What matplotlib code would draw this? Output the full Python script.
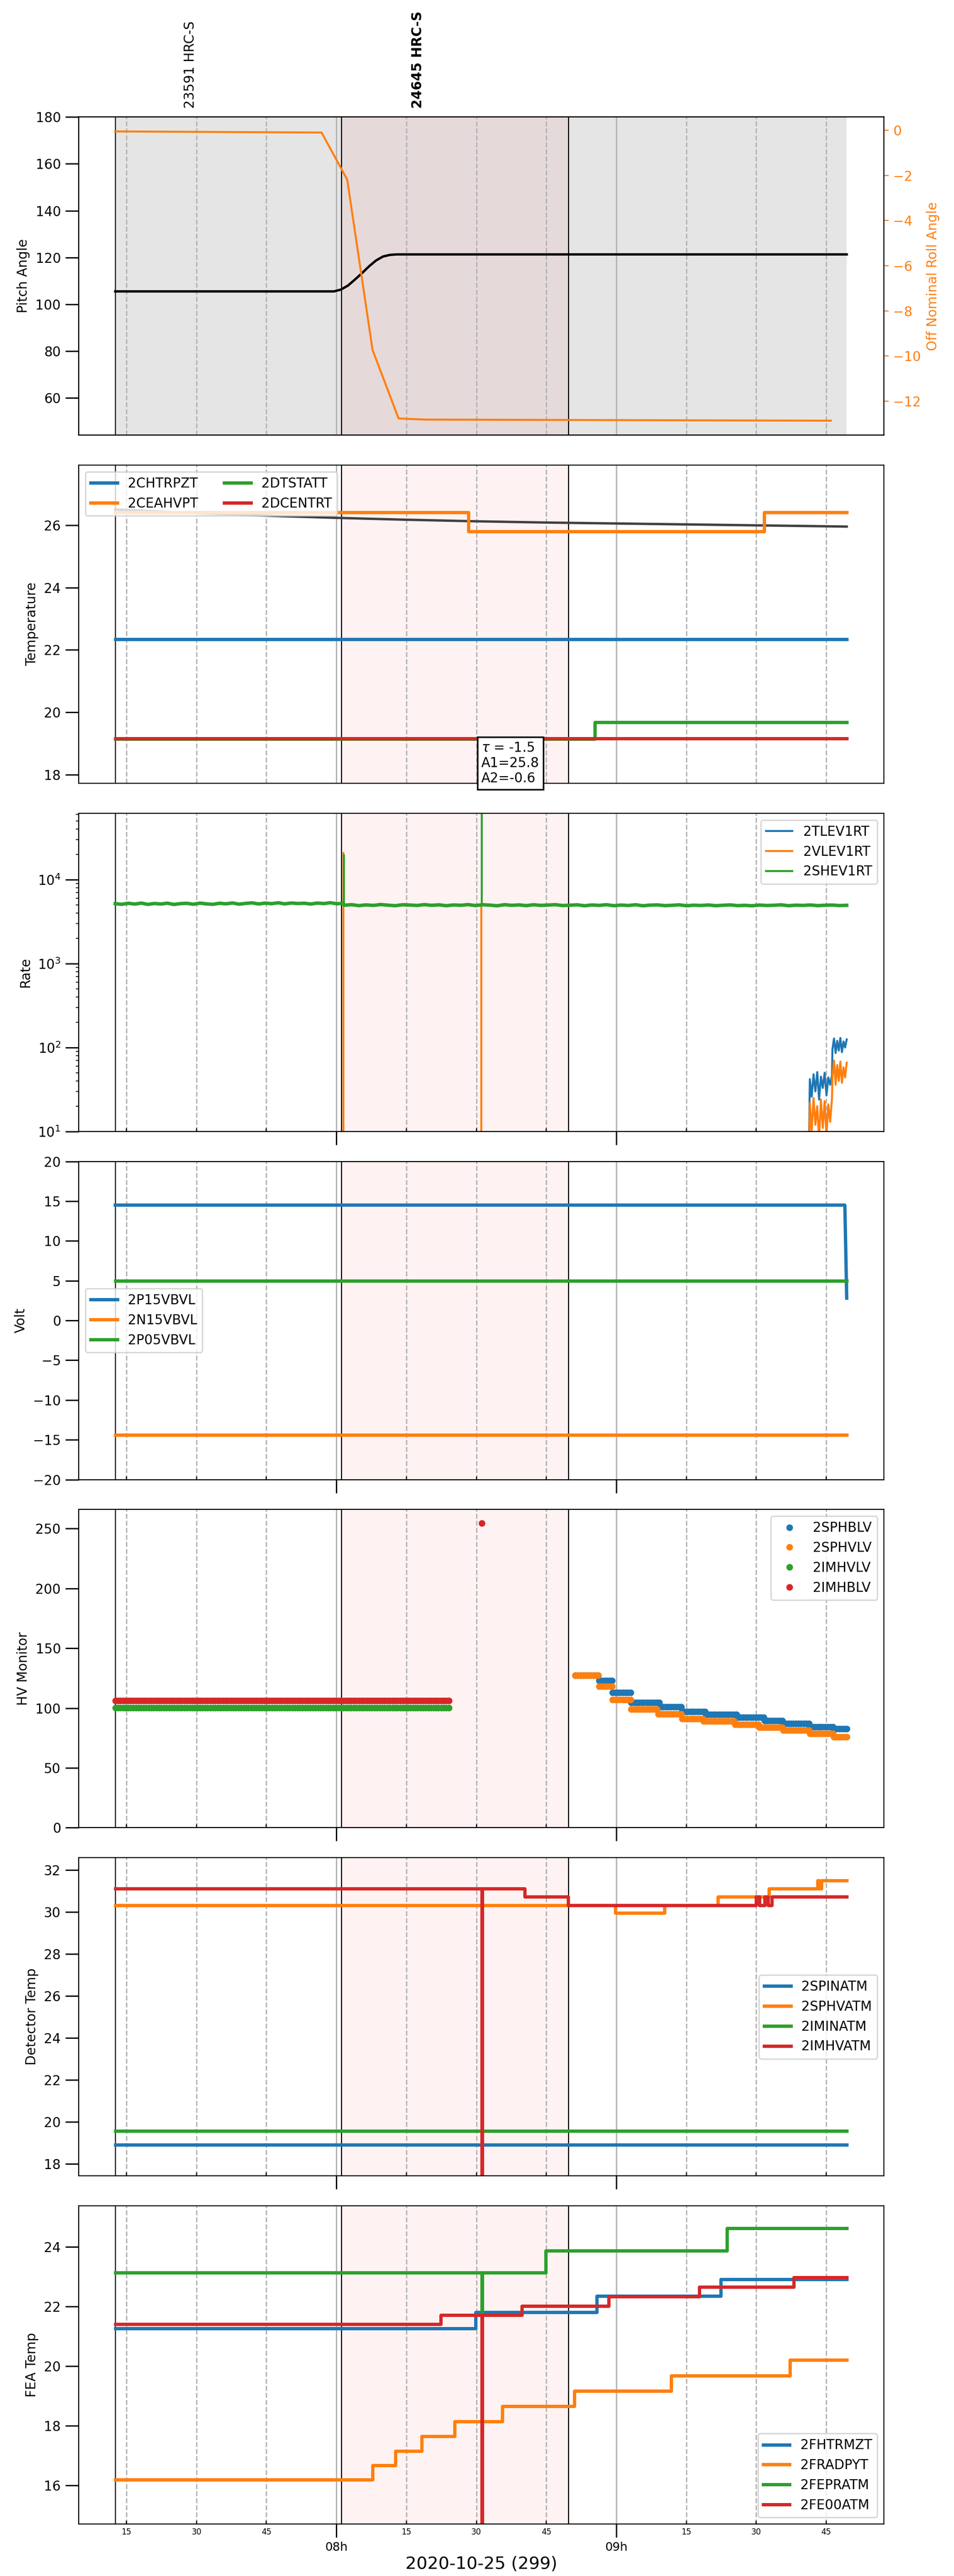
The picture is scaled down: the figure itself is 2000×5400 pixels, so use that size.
"""HRC dwell summary for 2020-10-25: attitude, temperatures, rates, voltages."""
import matplotlib
matplotlib.use("Agg")
import matplotlib.pyplot as plt
import matplotlib.dates as mdates
from matplotlib.ticker import MultipleLocator
import pandas as pd

DAY = "2020-10-25 "
T_START = "07:12:36"
T_END = "09:49:24"
XLIM = ["07:04:46", "09:57:22"]

# --- observations ---
obs_edges = ["07:12:36", "08:01:06", "08:49:45"]
obs_names = ["23591 HRC-S", "24645 HRC-S"]
obs_label_t = ["07:28:40", "08:17:25"]
cur_obs = ["08:01:06", "08:49:45"]

# --- panel 1: attitude ---
pitch_t = ["07:12:36", "07:59:30", "08:01:00", "08:02:30", "08:04:00", "08:05:30",
           "08:07:00", "08:08:30", "08:10:00", "08:11:30", "08:13:00", "09:49:24"]
pitch_v = [105.5, 105.5, 106.3, 108.0, 110.6, 113.3, 116.2, 118.7, 120.4, 121.1, 121.3, 121.3]
roll_t = ["07:12:36", "07:56:50", "08:02:20", "08:07:45", "08:13:20", "08:19:00", "09:46:00"]
roll_v = [-0.05, -0.10, -2.19, -9.73, -12.77, -12.82, -12.87]

# --- panel 2: temperatures ---
chtrpzt_t = [T_START, T_END]
chtrpzt_v = [22.35, 22.35]
ceahvpt_t = [T_START, "08:28:20", "09:31:40", T_END]
ceahvpt_v = [26.40, 25.79, 26.40, 26.40]
dtstatt_t = [T_START, "08:55:25", T_END]
dtstatt_v = [19.15, 19.68, 19.68]
dcentrt_t = [T_START, T_END]
dcentrt_v = [19.16, 19.16]
fit_t = ["07:12:36", "07:30:00", "07:45:00", "08:00:00", "08:15:00", "08:30:00",
         "08:45:00", "09:00:00", "09:15:00", "09:30:00", "09:45:00", "09:49:24"]
fit_v = [26.50, 26.38, 26.30, 26.23, 26.17, 26.12, 26.08, 26.05, 26.02, 25.99, 25.96, 25.95]
fit_text = "$\\tau$ = -1.5\nA1=25.8\nA2=-0.6"

# --- panel 3: rates ---
shev_seg1 = [5180, 5090, 5240, 5120, 5260, 5080, 5210, 5130, 5250, 5070, 5190, 5230,
             5100, 5260, 5150, 5090, 5240, 5160, 5280, 5110, 5220, 5300, 5140, 5260,
             5180, 5310, 5150, 5280, 5200, 5240, 5130, 5270, 5190, 5320, 5160, 5250]
shev_seg2 = [4960, 5040, 4910, 5010, 4940, 5060, 4970, 4900, 5030, 4990, 4930, 5050,
             4950, 5020, 4900, 5000, 4960, 5050, 4920, 5030, 4980, 4890, 5040, 4950,
             5010, 4910, 5030, 4940, 4990, 5040, 4920, 4970, 5020, 4890, 5000, 4940,
             5040, 4900, 4990, 4930, 5030, 4890, 4980, 5010, 4910, 4950, 5020, 4890,
             4970, 4930, 5000, 4900, 4960, 5010, 4910, 4950, 4890, 4990, 4930, 4960,
             5020, 4900, 4970, 4940, 5000, 4910, 4960, 4990, 4920, 4950]
shev_spike_t = ["08:01:36", "08:31:12"]
shev_spike_v = [2.0e4, 1.0e5]
vlev_spike_t = ["08:01:30", "08:31:06"]
vlev_spike_v = [2.15e4, 5.0e3]
tlev_band1 = [1, 42, 26, 48, 30, 51, 24, 45, 33, 50, 27, 44, 36, 47]
tlev_band2 = [95, 128, 86, 120, 92, 130, 88, 118, 100, 125]
vlev_band1 = [1, 22, 10, 25, 12, 20, 8, 24, 11, 23, 9, 21, 13, 25]
vlev_band2 = [45, 70, 36, 62, 40, 68, 38, 58, 44, 66]
band_edges = ["09:41:06", "09:46:15", "09:46:20", T_END]

# --- panel 4: voltages ---
p15_t = [T_START, "09:49:00", T_END]
p15_v = [14.5, 14.5, 2.8]
n15_t = [T_START, T_END]
n15_v = [-14.4, -14.4]
p05_t = [T_START, T_END]
p05_v = [4.95, 4.95]

# --- panel 5: HV monitor (step start times, last entry is the end) ---
sphblv_t = ["08:51:12", "08:56:20", "08:59:12", "09:03:12", "09:09:30", "09:14:04",
            "09:19:12", "09:26:04", "09:31:46", "09:35:46", "09:41:28", "09:46:38", T_END]
sphblv_v = [127.4, 123.0, 112.8, 104.8, 101.2, 97.2, 94.6, 92.1, 89.5, 87.0, 84.4, 82.6]
sphvlv_t = ["08:51:12", "08:56:20", "08:59:12", "09:03:12", "09:09:00", "09:14:04",
            "09:18:40", "09:25:30", "09:30:40", "09:35:46", "09:41:28", "09:46:38", T_END]
sphvlv_v = [127.4, 118.3, 107.0, 99.0, 95.0, 91.0, 89.2, 86.2, 83.7, 81.5, 78.6, 76.1]
imhvlv_t = [T_START, "08:24:20"]
imhvlv_v = [100.1]
imhblv_t = [T_START, "08:24:20"]
imhblv_v = [106.3]
imhblv_out_t = ["08:31:12"]
imhblv_out_v = [254.7]

# --- panel 6: detector temperatures ---
spinatm_t = [T_START, T_END]
spinatm_v = [18.91, 18.91]
sphvatm_t = [T_START, "08:59:46", "09:10:17", "09:21:50", "09:32:41", "09:43:12",
             "09:43:35", "09:44:00", T_END]
sphvatm_v = [30.33, 29.96, 30.33, 30.73, 31.13, 31.52, 31.13, 31.52, 31.52]
iminatm_t = [T_START, T_END]
iminatm_v = [19.58, 19.58]
imhvatm_t = [T_START, "08:31:06", "08:31:12", "08:31:18", "08:40:20", "08:49:43",
             "09:30:00", "09:30:40", "09:31:50", "09:32:30", "09:33:20", T_END]
imhvatm_v = [31.13, 31.13, 0.0, 31.13, 30.73, 30.33, 30.73, 30.33, 30.73, 30.33, 30.73, 30.73]

# --- panel 7: FEA temperatures ---
fhtrmzt_t = [T_START, "08:29:50", "08:55:46", "09:22:24", T_END]
fhtrmzt_v = [21.26, 21.81, 22.35, 22.91, 22.91]
fradpyt_t = [T_START, "08:07:46", "08:12:41", "08:18:17", "08:25:18", "08:35:32",
             "08:50:58", "09:11:46", "09:37:16", T_END]
fradpyt_v = [16.19, 16.67, 17.15, 17.65, 18.14, 18.66, 19.16, 19.68, 20.20, 20.20]
fepratm_t = [T_START, "08:31:06", "08:31:12", "08:31:18", "08:44:55", "09:23:46", T_END]
fepratm_v = [23.13, 23.13, 21.80, 23.13, 23.87, 24.62, 24.62]
fe00atm_t = [T_START, "08:22:24", "08:31:06", "08:31:12", "08:31:18", "08:39:46",
             "08:58:24", "09:17:50", "09:38:03", T_END]
fe00atm_v = [21.40, 21.71, 21.71, 0.0, 21.71, 22.02, 22.34, 22.65, 22.97, 22.97]


def ts(times):
    return pd.to_datetime([DAY + t for t in times])


def sample_steps(times, values, step="33s"):
    """Spread step levels over the telemetry sample grid."""
    xs, ys = [], []
    for t0, t1, v in zip(times[:-1], times[1:], values):
        rng = pd.date_range(DAY + t0, DAY + t1, freq=step, inclusive="left")
        xs.extend(rng)
        ys.extend([v] * len(rng))
    return xs, ys


def run_dwell_plot():
    fig = plt.figure(figsize=(10, 27))
    axes = fig.subplots(7, 1, sharex=True)
    fig.subplots_adjust(left=0.0825, right=0.9265, top=0.9546, bottom=0.0202,
                        hspace=0.094)
    ax1, ax2, ax3, ax4, ax5, ax6, ax7 = axes

    # shading / observation markers common to all panels
    for i, ax in enumerate(axes):
        if i == 0:
            ax.axvspan(*ts([T_START, T_END]), color="gray", alpha=0.2, lw=0)
        ax.axvspan(*ts(cur_obs), color="red", alpha=0.05, lw=0)
        for t in ts(obs_edges):
            ax.axvline(t, color="k", lw=0.8)
        ax.grid(True, which="major", axis="x", color="0.7", ls="-", lw=1.0)
        ax.grid(True, which="minor", axis="x", color="0.7", ls="--", lw=1.0)
        ax.tick_params(axis="y", direction="out", length=10, width=1)

    # --- Panel 1: pitch & roll ---
    ax1.plot(ts(pitch_t), pitch_v, color="k", lw=1.8)
    ax1.set_ylim(44.1, 180)
    ax1.yaxis.set_major_locator(MultipleLocator(20))
    ax1.set_ylabel("Pitch Angle")
    ax1r = ax1.twinx()
    ax1r.plot(ts(roll_t), roll_v, color="C1", lw=1.5)
    ax1r.set_ylabel("Off Nominal Roll Angle", color="C1")
    ax1r.tick_params(axis="y", colors="C1")
    trans = ax1.get_xaxis_transform()
    for name, t, w in zip(obs_names, ts(obs_label_t), ["normal", "bold"]):
        ax1.text(t, 1.027, name, transform=trans, rotation=90, ha="center",
                 va="bottom", fontsize=10, fontweight=w)

    # --- Panel 2: temperatures ---
    ax2.plot(ts(fit_t), fit_v, color="0.25", lw=1.8)
    for t, v, lab, c in [(chtrpzt_t, chtrpzt_v, "2CHTRPZT", "C0"),
                         (ceahvpt_t, ceahvpt_v, "2CEAHVPT", "C1"),
                         (dtstatt_t, dtstatt_v, "2DTSTATT", "C2"),
                         (dcentrt_t, dcentrt_v, "2DCENTRT", "C3")]:
        ax2.plot(ts(t), v, drawstyle="steps-post", lw=2.5, color=c, label=lab)
    ax2.set_ylim(17.73, 27.92)
    ax2.set_ylabel("Temperature")
    ax2.legend(loc="upper left", ncol=2)
    ax2.text(0.5, 0.1325, fit_text, transform=ax2.transAxes, ha="left", va="top",
             fontsize=10, bbox=dict(boxstyle="square", fc="white", ec="black", lw=1.2))

    # --- Panel 3: rates (log) ---
    ax3.set_yscale("log")
    b1 = pd.date_range(DAY + band_edges[0], DAY + band_edges[1], periods=len(tlev_band1))
    b2 = pd.date_range(DAY + band_edges[2], DAY + band_edges[3], periods=len(tlev_band2))
    ax3.plot(list(b1) + list(b2), tlev_band1 + tlev_band2, color="C0", lw=1.5,
             label="2TLEV1RT")
    ax3.plot(list(b1) + list(b2), vlev_band1 + vlev_band2, color="C1", lw=1.5,
             label="2VLEV1RT")
    ax3.vlines(ts(vlev_spike_t), 1, vlev_spike_v, color="C1", lw=1.5)
    g1 = pd.date_range(DAY + T_START, DAY + "08:01:30", periods=len(shev_seg1))
    g2 = pd.date_range(DAY + "08:01:42", DAY + T_END, periods=len(shev_seg2))
    ax3.plot(list(g1) + list(g2), shev_seg1 + shev_seg2, color="C2", lw=2.6)
    ax3.plot([], [], color="C2", lw=1.5, label="2SHEV1RT")
    ax3.vlines(ts(shev_spike_t), 5000, shev_spike_v, color="C2", lw=1.5)
    ax3.set_ylim(10, 6.2e4)
    ax3.set_ylabel("Rate")
    ax3.legend(loc="upper right")

    # --- Panel 4: voltages ---
    ax4.plot(ts(p15_t), p15_v, lw=2.5, color="C0", label="2P15VBVL")
    ax4.plot(ts(n15_t), n15_v, lw=2.5, color="C1", label="2N15VBVL")
    ax4.plot(ts(p05_t), p05_v, lw=2.5, color="C2", label="2P05VBVL")
    ax4.set_ylim(-20, 20)
    ax4.yaxis.set_major_locator(MultipleLocator(5))
    ax4.set_ylabel("Volt")
    ax4.legend(loc="center left")

    # --- Panel 5: HV monitor (sampled points) ---
    for t, v, lab, c in [(sphblv_t, sphblv_v, "2SPHBLV", "C0"),
                         (sphvlv_t, sphvlv_v, "2SPHVLV", "C1"),
                         (imhvlv_t, imhvlv_v, "2IMHVLV", "C2"),
                         (imhblv_t, imhblv_v, "2IMHBLV", "C3")]:
        xs, ys = sample_steps(t, v)
        ax5.plot(xs, ys, "o", ms=4, color=c, label=lab)
    ax5.plot(ts(imhblv_out_t), imhblv_out_v, "o", ms=4, color="C3")
    ax5.set_ylim(0, 266)
    ax5.set_ylabel("HV Monitor")
    ax5.legend(loc="upper right")

    # --- Panel 6: detector temperatures ---
    for t, v, lab, c in [(spinatm_t, spinatm_v, "2SPINATM", "C0"),
                         (sphvatm_t, sphvatm_v, "2SPHVATM", "C1"),
                         (iminatm_t, iminatm_v, "2IMINATM", "C2"),
                         (imhvatm_t, imhvatm_v, "2IMHVATM", "C3")]:
        ax6.plot(ts(t), v, drawstyle="steps-post", lw=2.5, color=c, label=lab)
    ax6.set_ylim(17.43, 32.6)
    ax6.set_ylabel("Detector Temp")
    ax6.legend(loc="center right")

    # --- Panel 7: FEA temperatures ---
    for t, v, lab, c in [(fhtrmzt_t, fhtrmzt_v, "2FHTRMZT", "C0"),
                         (fradpyt_t, fradpyt_v, "2FRADPYT", "C1"),
                         (fepratm_t, fepratm_v, "2FEPRATM", "C2"),
                         (fe00atm_t, fe00atm_v, "2FE00ATM", "C3")]:
        ax7.plot(ts(t), v, drawstyle="steps-post", lw=2.5, color=c, label=lab)
    ax7.set_ylim(14.70, 25.38)
    ax7.set_ylabel("FEA Temp")
    ax7.legend(loc="lower right")
    ax7.set_xlabel("2020-10-25 (299)", fontsize=13, labelpad=2)

    # --- time axis ---
    ax7.set_xlim(ts(XLIM))
    ax7.xaxis.set_major_locator(mdates.HourLocator())
    ax7.xaxis.set_major_formatter(mdates.DateFormatter("%Hh"))
    ax7.xaxis.set_minor_locator(mdates.MinuteLocator(byminute=[15, 30, 45]))
    ax7.xaxis.set_minor_formatter(mdates.DateFormatter("%M"))
    for ax in axes[:2]:
        ax.tick_params(axis="x", which="both", length=0)
    for ax in axes[2:]:
        ax.tick_params(axis="x", which="major", direction="out", length=10, width=1)
        ax.tick_params(axis="x", which="minor", direction="in", length=2.5, width=0.8)
    for ax in axes[:-1]:
        ax.tick_params(axis="x", which="both", labelbottom=False)
    ax7.tick_params(axis="x", which="major", labelsize=9)
    ax7.tick_params(axis="x", which="minor", labelsize=6, pad=3)

    fig.savefig("out.png", dpi=200)
    plt.close(fig)


if __name__ == "__main__":
    run_dwell_plot()
